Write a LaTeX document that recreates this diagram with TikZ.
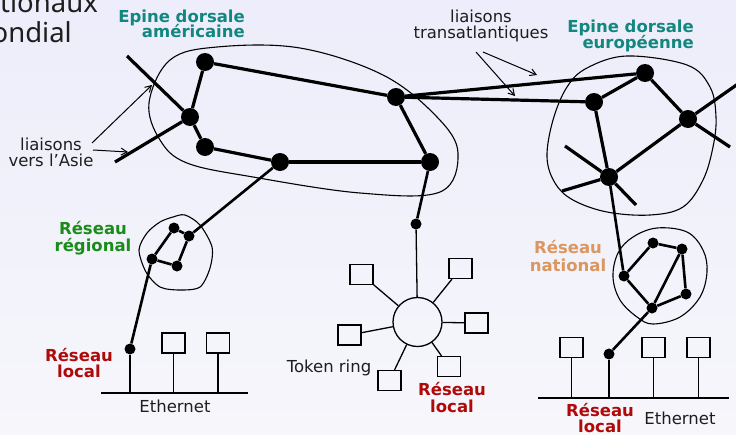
\documentclass[tikz,border=0pt]{standalone}
\usepackage{fontspec}
\setmainfont{DejaVu Sans}
\newfontfamily\titlefont{Noto Sans}
\usetikzlibrary{arrows.meta}
\definecolor{bgtop}{RGB}{237,237,251}
\definecolor{bgbot}{RGB}{246,246,251}
\definecolor{tealc}{RGB}{18,135,128}
\definecolor{greenc}{RGB}{25,140,25}
\definecolor{redc}{RGB}{175,10,10}
\definecolor{tanc}{RGB}{220,150,95}
\definecolor{textc}{RGB}{30,30,30}
\begin{document}
\begin{tikzpicture}[x=1pt,y=-1pt,
  txt/.style={inner sep=0pt,text=textc,font=\fontsize{16.5}{16}\selectfont},
  lbl/.style={inner sep=0pt,font=\fontsize{16.5}{16}\selectfont\bfseries},
  ttl/.style={inner sep=0pt,text=textc,font=\titlefont\fontsize{27.5}{28}\selectfont},
  bigdot/.style={circle,fill=black,inner sep=0pt,minimum size=18pt},
  smalldot/.style={circle,fill=black,inner sep=0pt,minimum size=11pt},
  thickline/.style={line width=3.2pt},
  medline/.style={line width=2.6pt},
  thinline/.style={line width=1.3pt},
  cloudline/.style={line width=1.1pt},
  host/.style={draw,line width=1.3pt,inner sep=0pt,minimum width=23pt,minimum height=20pt},
  pointer/.style={line width=1pt,-{Straight Barb[length=6pt,width=7pt]}}
]
\shade[top color=bgtop,bottom color=bgbot] (0,0) rectangle (736,434);
\useasboundingbox (0,0) rectangle (736,434);
\clip (0,0) rectangle (736,434);

% title fragments
\node[ttl,anchor=base east] (ttl1) at (98,12) {tionaux};
\node[ttl,anchor=base east] (ttl2) at (72,42.3) {ondial};

% clouds
\draw[cloudline] plot[smooth cycle,tension=0.6] coordinates {(149,103) (170,60) (217,47) (300,48) (383,75) (437,117) (458,153) (440,192) (360,193) (253,177) (187,163) (160,140)};
\draw[cloudline] plot[smooth cycle,tension=0.6] coordinates {(587,68) (627,56) (687,65) (710,87) (716,117) (713,147) (703,180) (683,207) (650,215) (607,212) (573,200) (555,183) (547,157) (553,120) (567,87)};
\draw[cloudline] plot[smooth cycle,tension=0.5] coordinates {(185,215) (200,225) (212,247) (210,268) (200,287) (180,290) (160,287) (146,272) (139,250) (147,233) (160,222) (173,217)};
\draw[cloudline] plot[smooth cycle,tension=0.6] coordinates {(618,253) (633,237) (657,228) (687,232) (703,250) (707,272) (700,297) (680,317) (653,324) (637,317) (620,300) (613,277)};

% American backbone
\node[bigdot] (a1) at (205,62) {};
\node[bigdot] (a2) at (190,117) {};
\node[bigdot] (a3) at (205,147) {};
\node[bigdot] (a4) at (280,162) {};
\node[bigdot] (a5) at (396,97) {};
\node[bigdot] (a6) at (430,162) {};
\coordinate (asia1) at (127,56);
\coordinate (asia2) at (115,162);

% European backbone
\node[bigdot] (e1) at (645,73) {};
\node[bigdot] (e2) at (594,102) {};
\node[bigdot] (e3) at (688,119) {};
\node[bigdot] (e4) at (609,177) {};
\coordinate (s1) at (745,79);
\coordinate (s2) at (730,147);
\coordinate (s3) at (565,146);
\coordinate (s4) at (636,205);
\coordinate (s5) at (562,191);

\draw[thickline] (a1) -- (a5);
\draw[thickline] (a1) -- (a2);
\draw[thickline] (a2) -- (a3);
\draw[thickline] (a3) -- (a4);
\draw[thickline] (a4) -- (a6);
\draw[thickline] (a5) -- (a6);
\draw[thickline] (asia1) -- (a2);
\draw[thickline] (asia2) -- (a2);
\draw[thickline] (a5) -- (e1);
\draw[thickline] (a5) -- (e2);
\draw[thickline] (e1) -- (e2);
\draw[thickline] (e1) -- (e3);
\draw[thickline] (e3) -- (e4);
\draw[thickline] (e2) -- (e4);
\draw[thickline] (s1) -- (e3);
\draw[thickline] (s2) -- (e3);
\draw[thickline] (s3) -- (e4);
\draw[thickline] (s4) -- (e4);
\draw[thickline] (s5) -- (e4);

% regional network
\node[smalldot] (r1) at (174,228) {};
\node[smalldot] (r2) at (189,236) {};
\node[smalldot] (r3) at (152,259) {};
\node[smalldot] (r4) at (177,266) {};
\draw[medline] (r1) -- (r3);
\draw[medline] (r1) -- (r2);
\draw[medline] (r2) -- (r4);
\draw[medline] (r4) -- (r3);
\draw[medline] (a4) -- (r2);

% national network
\node[smalldot] (n1) at (624,276) {};
\node[smalldot] (n2) at (653,243) {};
\node[smalldot] (n3) at (682,249) {};
\node[smalldot] (n4) at (686,294) {};
\node[smalldot] (n5) at (652,308) {};
\draw[medline] (n1) -- (n2);
\draw[medline] (n2) -- (n3);
\draw[medline] (n3) -- (n4);
\draw[medline] (n4) -- (n5);
\draw[medline] (n5) -- (n1);
\draw[medline] (n3) -- (n5);
\draw[medline] (e4) -- (n1);

% left local network
\node[smalldot] (l1) at (130,349) {};
\draw[medline] (r3) -- (l1);
\coordinate (busL1) at (101,393);
\coordinate (busL2) at (248,393);
\draw[thinline] (busL1) -- (busL2);
\node[host] (hl1) at (173.5,343) {};
\node[host] (hl2) at (218,343) {};
\draw[thinline] (l1) -- (l1 |- busL1);
\draw[thinline] (hl1.south) -- (hl1.south |- busL1);
\draw[thinline] (hl2.south) -- (hl2.south |- busL1);

% token ring
\node[smalldot] (tdot) at (416,224) {};
\draw[medline] (a6) -- (tdot);
\node[circle,draw,line width=1.3pt,minimum size=49pt,inner sep=0pt] (ring) at (417.5,322) {};
\draw[thinline] (tdot) -- (ring);
\node[host] (b1) at (361.5,274.5) {};
\node[host] (b2) at (460.5,268.5) {};
\node[host] (b3) at (476.5,323) {};
\node[host] (b4) at (349.5,335) {};
\node[host] (b5) at (389.5,380.5) {};
\node[host] (b6) at (449,366.5) {};
\draw[thinline] (ring) -- (b1);
\draw[thinline] (ring) -- (b2);
\draw[thinline] (ring) -- (b3);
\draw[thinline] (ring) -- (b4);
\draw[thinline] (ring) -- (b5);
\draw[thinline] (ring) -- (b6);

% right local network
\node[smalldot] (l2) at (609,354) {};
\draw[medline] (n5) -- (l2);
\coordinate (busR1) at (538,398);
\coordinate (busR2) at (729,398);
\draw[thinline] (busR1) -- (busR2);
\node[host] (hr1) at (571.5,347.5) {};
\node[host] (hr2) at (653.5,347.5) {};
\node[host] (hr3) at (698.5,347.5) {};
\draw[thinline] (l2) -- (l2 |- busR1);
\draw[thinline] (hr1.south) -- (hr1.south |- busR1);
\draw[thinline] (hr2.south) -- (hr2.south |- busR1);
\draw[thinline] (hr3.south) -- (hr3.south |- busR1);

% labels
\node[lbl,text=tealc,anchor=base east] (eam1) at (245,22.5) {Epine dorsale};
\node[lbl,text=tealc,anchor=base east] (eam2) at (245,37.5) {américaine};
\node[lbl,text=tealc,anchor=base east] (eeu1) at (694,32.5) {Epine dorsale};
\node[lbl,text=tealc,anchor=base east] (eeu2) at (694,48) {européenne};

\node[txt,anchor=base] (tr1) at (481,22) {liaisons};
\node[txt,anchor=base] (tr2) at (481,38) {transatlantiques};
\coordinate (trA) at (483,52);
\coordinate (trB) at (476,52);
\coordinate (trA2) at (537,75);
\coordinate (trB2) at (515,96);
\draw[pointer] (trA) -- (trA2);
\draw[pointer] (trB) -- (trB2);

\node[txt,anchor=base] (as1) at (51,150) {liaisons};
\node[txt,anchor=base] (as2) at (51,166) {vers l'Asie};
\coordinate (asA) at (92,143);
\coordinate (asA2) at (152,85);
\coordinate (asB) at (93,150);
\coordinate (asB2) at (128,152);
\draw[pointer] (asA) -- (asA2);
\draw[pointer] (asB) -- (asB2);

\node[lbl,text=greenc,anchor=base] (rg1) at (93,234.5) {Réseau};
\node[lbl,text=greenc,anchor=base] (rg2) at (93,251) {régional};

\node[lbl,text=redc,anchor=base] (lc1) at (79,361) {Réseau};
\node[lbl,text=redc,anchor=base] (lc2) at (79,377) {local};
\node[txt,anchor=base] (eth1) at (175,412) {Ethernet};

\node[txt,anchor=base] (tok) at (329,372) {Token ring};
\node[lbl,text=redc,anchor=base] (lc3) at (452,395) {Réseau};
\node[lbl,text=redc,anchor=base] (lc4) at (452,412) {local};

\node[lbl,text=tanc,anchor=base] (nt1) at (568,253) {Réseau};
\node[lbl,text=tanc,anchor=base] (nt2) at (568,271) {national};

\node[lbl,text=redc,anchor=base] (lc5) at (600,416.5) {Réseau};
\node[lbl,text=redc,anchor=base] (lc6) at (600,432.5) {local};
\node[txt,anchor=base] (eth2) at (680,424) {Ethernet};
\end{tikzpicture}
\end{document}
